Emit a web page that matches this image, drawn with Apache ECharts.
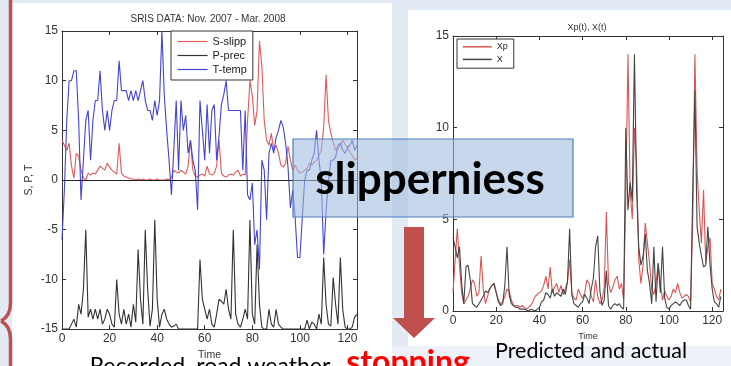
<!DOCTYPE html>
<html><head><meta charset="utf-8">
<script src="https://cdn.jsdelivr.net/npm/echarts@6/dist/echarts.min.js"></script>
<style>html,body{margin:0;padding:0;background:#e4eaf4;overflow:hidden}#c{width:731px;height:366px}</style>
</head><body><div id="c"></div>
<script>
// ---------- data ----------
const leftTitle = 'SRIS DATA: Nov. 2007 - Mar. 2008';
const rightTitle = 'Xp(t), X(t)';
const leftSeriesNames = ['S-slipp', 'P-prec', 'T-temp'];
const rightSeriesNames = ['Xp', 'X'];
const leftXRange = [0, 124, 20];   // min, max, tick step
const leftYRange = [-15, 15, 5];
const rightXRange = [0, 125, 20];
const rightYRange = [0, 15, 5];

const sSlipp = [4,3.5,3,3.7,1.4,0.2,2.7,2.4,1,0.2,
 0,0.7,0.5,0.7,0.6,1,1.4,1.2,1,1.7,
 1.3,1,0.8,0.6,3.7,0.7,0.4,0.3,0.2,0.1,
 0.1,0,0.1,0,0.1,0,0,0.1,0,0,
 0.1,0,0,0,0.1,0,0.3,1,0.8,0.7,
 1,0.8,0.6,1.4,4,1,0.4,0.3,0.5,0.6,
 0.4,1.4,0.6,0.5,0.7,1.4,4,0.7,0.4,0.3,
 0.5,0.6,0.5,0.8,1,0.4,0.6,0.5,6,10,
 8.5,5.5,7,14,11.5,6,4,3.5,4.7,3,
 3.5,2.7,1.5,1.3,1.7,3.4,2,1,1.5,1,
 0.7,0.8,1,1.2,1.7,1.5,1.8,2,2.5,3,
 5.3,10.6,6,4.7,3.8,3,3.2,3.5,4,3.6,
 3.3,2.8,2.5,2,2.2];
const pPrec = [-15,-15,-15,-15,-14.5,-14,-14.8,-12.5,-13.5,-11,
 -5,-13.8,-13,-14,-13,-14,-13,-14.5,-14,-13,
 -13.5,-14.5,-14.8,-10,-13.5,-14.5,-13,-14.5,-13.5,-14.8,
 -12.5,-14.3,-7,-12,-14.5,-5,-11,-14.7,-13,-4,
 -12,-14.8,-13.5,-13,-14,-14.5,-14.8,-14.7,-14.5,-15,
 -15,-15,-15,-15,-15,-15,-15,-15,-8,-12,
 -13,-14,-13,-14.5,-14.8,-13.5,-12,-12.2,-12.5,-11,
 -13,-14,-5,-13.5,-14.5,-14.8,-14,-13,-14,-4,
 -13.5,-14.5,-6.5,-12.5,-14.8,-15,-15,-13,-14.5,-14.8,
 -13,-14.5,-14.8,-15,-15,-15,-15,-15,-15,-15,
 -15,-15,-15,-14.1,-15,-14.3,-14.5,-15,-13.5,-14.5,
 -7.8,-12.5,-14.5,-14.7,-9.8,-12.5,-14.5,-7.8,-13,-14.8,
 -15,-15,-14.8,-13.8,-13.5];
const tTemp = [-6,-1,6,10,10,11,11,6,-2,2,
 6,7,2,6,8,8,11,7,5,7,
 5,7,8,8,12,9,9,9,8,9,
 8,9,8,9,10,8,7,7,6,8,
 6.5,8,15,8.5,5,2,-1.5,3,8,1,
 8,5,6.5,2.7,4,2,1,-3,8,5,
 2,7.6,2.7,7,7.6,2,4.4,7.6,8.6,10,
 7,7,7,7,7,7,1,7,-1.5,-2,
 -0.3,-6.5,-5,-9,2,1,-4,2.7,3.7,2.7,
 4.3,5,6,5.3,3.7,1.3,-2.8,-1,-3.8,-7.8,
 -7.8,-3.8,0,1,1,2,2.7,5,2,0,
 -7.5,-3.2,0,2,2,2.3,3.5,3.7,3,2.7,
 3.3,3.5,4,3,3.5];
const xp = [1,2.8,4.5,2.5,1,0.4,0.6,0.8,1.2,1.7,
 1.5,0.8,1,3,1.2,0.4,0.8,1.2,1.4,1.5,
 1,0.6,0.4,0.5,0.8,1.2,1.1,0.6,0.3,0.3,
 0.3,0.2,0.3,0.2,0.1,0.2,0.3,0.5,0.8,0.9,
 1,1.1,1.4,1.9,1.2,2.4,1,1.3,1.5,1,
 1.4,0.9,1.2,1.6,2.8,1,0.7,0.6,1.2,0.9,
 0.7,1,1.7,1.5,0.8,0.5,1.7,0.8,0.4,0.6,
 1.3,5.4,1.5,1,1.3,1.7,1.9,1.2,1.5,0.6,
 6.2,14,6.6,5,10,8,2.8,1.5,2.5,4.8,
 3.7,2.6,1.2,0.9,1.5,2.6,1.5,0.6,1.1,0.8,
 0.6,0.8,1.2,1,1.5,1,0.7,0.8,0.9,0.8,
 0.5,5,14,7.7,5.5,3.7,6.6,2.6,3.5,4,
 1.5,1.2,0.8,0.6,1.2];
const xActual = [4,3.5,2.9,3.5,1.5,0.4,2.4,2.5,1.7,0.4,
 0.3,0.2,0.4,0.6,0.8,1.1,1,1.2,1.4,1.5,
 1,0.5,0.3,0.4,1.4,3.5,0.9,0.4,0.3,0.2,
 0.2,0.1,0.1,0.1,0.05,0,0.1,0.05,0,0.1,
 0.2,0.5,0.6,1,0.9,0.7,1.2,0.8,1,0.9,
 0.8,1.2,0.9,1.6,4.5,0.9,0.4,0.3,0.2,0.4,
 0.5,0.9,0.7,0.4,1.2,1.8,3.5,4.1,1.1,0.3,
 0.6,2.2,0.3,0.1,0.3,0.4,0.3,0.4,0.2,0.1,
 10,5.5,7,6,14,6.6,3.5,2.5,3,4.2,
 2.2,1.5,0.4,3.5,0.5,2.6,1,3.5,0.7,0.2,
 0.1,0.3,0.4,0.5,0.4,0.3,0.5,0.6,0.6,0.3,
 0.1,6.6,12,4.6,3.7,3,2.4,2.5,4.6,2.5,
 1.2,0.5,0.4,0.2,0.8];
const boxText = 'slipperniess';
const arrowText = 'stopping';
const leftCaption = 'Recorded, road weather';
const rightCaption = 'Predicted and actual';

// ---------- chart ----------
const FM = "'Liberation Sans', Arial, sans-serif";
const FS = "Lato, 'Open Sans', sans-serif";
const pairs = arr => arr.map((v, i) => [i, v]);
const AX = '#333';

function mkAxis(grid, r, pos, labels, extra) {
  return Object.assign({
    gridIndex: grid, type: 'value', min: r[0], max: r[1], interval: r[2], position: pos,
    axisLine: { show: true, onZero: false, lineStyle: { color: AX, width: 1 } },
    axisTick: { show: true, inside: true, length: 4, lineStyle: { color: AX } },
    axisLabel: { show: labels, color: '#333', fontFamily: FM, margin: 4, showMaxLabel: (pos === 'left' || pos === 'right') },
    splitLine: { show: false }
  }, extra || {});
}
const nameStyle = (fs) => ({ fontSize: fs, color: '#333', fontFamily: FM });
const BR = '#c0504d';

const chart = echarts.init(document.getElementById('c'), null, { renderer: 'canvas' });
const option = {
  animation: false,
  grid: [
    { left: 62, top: 31, width: 295, height: 301, containLabel: false },
    { left: 453, top: 36, width: 270, height: 275, containLabel: false }
  ],
  xAxis: [
    mkAxis(0, leftXRange, 'bottom', true, { name: 'Time', nameLocation: 'middle', nameGap: 17, nameTextStyle: nameStyle(10.5) }),
    mkAxis(0, leftXRange, 'top', false),
    mkAxis(1, rightXRange, 'bottom', true, { name: 'Time', nameLocation: 'middle', nameGap: 16, nameTextStyle: nameStyle(9) }),
    mkAxis(1, rightXRange, 'top', false)
  ],
  yAxis: [
    mkAxis(0, leftYRange, 'left', true, { name: 'S, P, T', nameLocation: 'middle', nameGap: 27, nameTextStyle: nameStyle(10.5) }),
    mkAxis(0, leftYRange, 'right', false),
    mkAxis(1, rightYRange, 'left', true, { name: 'X', nameLocation: 'middle', nameGap: 18, nameTextStyle: nameStyle(9) }),
    mkAxis(1, rightYRange, 'right', false)
  ],
  legend: [
    { data: leftSeriesNames, orient: 'vertical', left: 171, top: 31, padding: [5, 6, 5, 6], itemGap: 3,
      itemWidth: 30, itemHeight: 12, backgroundColor: '#fff', borderColor: '#333', borderWidth: 1,
      itemStyle: { opacity: 0 }, lineStyle: { width: 1.2 },
      selectedMode: false, textStyle: { fontSize: 11, color: '#222', fontFamily: FM } },
    { data: rightSeriesNames, orient: 'vertical', left: 457, top: 39, padding: [3, 6, 4, 5], itemGap: 3,
      itemWidth: 29, itemHeight: 12, backgroundColor: '#fff', borderColor: '#333', borderWidth: 1,
      itemStyle: { opacity: 0 }, lineStyle: { width: 1.5 },
      selectedMode: false, textStyle: { fontSize: 9, color: '#222', fontFamily: FM } }
  ],
  series: [
    { name: leftSeriesNames[0], type: 'line', xAxisIndex: 0, yAxisIndex: 0, data: pairs(sSlipp), symbol: 'none',
      lineStyle: { color: '#e05a5a', width: 1.1 }, itemStyle: { color: '#e05a5a' },
      markLine: { silent: true, symbol: 'none', label: { show: false }, lineStyle: { color: '#222', width: 1, type: 'solid' }, data: [{ yAxis: 0 }] } },
    { name: leftSeriesNames[1], type: 'line', xAxisIndex: 0, yAxisIndex: 0, data: pairs(pPrec), symbol: 'none',
      lineStyle: { color: '#333', width: 1.1 }, itemStyle: { color: '#333' } },
    { name: leftSeriesNames[2], type: 'line', xAxisIndex: 0, yAxisIndex: 0, data: pairs(tTemp), symbol: 'none',
      lineStyle: { color: '#4444d2', width: 1.1 }, itemStyle: { color: '#4444d2' } },
    { name: rightSeriesNames[0], type: 'line', xAxisIndex: 2, yAxisIndex: 2, data: pairs(xp), symbol: 'none',
      lineStyle: { color: '#d85555', width: 1.1 }, itemStyle: { color: '#d85555' } },
    { name: rightSeriesNames[1], type: 'line', xAxisIndex: 2, yAxisIndex: 2, data: pairs(xActual), symbol: 'none',
      lineStyle: { color: '#444', width: 1.1 }, itemStyle: { color: '#444' } }
  ],
  graphic: { elements: [
    { type: 'rect', z: -100, silent: true, shape: { x: 0, y: 0, width: 731, height: 366 }, style: { fill: '#e4eaf4' } },
    { type: 'rect', z: -99, silent: true, shape: { x: 392, y: 346, width: 339, height: 20 }, style: { fill: '#eef1f8' } },
    { type: 'rect', z: -98, silent: true, shape: { x: 12, y: 3, width: 380, height: 363 }, style: { fill: '#ffffff' } },
    { type: 'rect', z: -98, silent: true, shape: { x: 408, y: 10, width: 323, height: 336 }, style: { fill: '#ffffff' } },
    { type: 'line', z: 50, silent: true, shape: { x1: 10.5, y1: 0, x2: 10.5, y2: 303 }, style: { stroke: BR, lineWidth: 3.5 } },
    { type: 'bezierCurve', z: 50, silent: true, shape: { x1: 10.5, y1: 303, x2: 1, y2: 321, cpx1: 10.5, cpy1: 316 }, style: { fill: null, stroke: BR, lineWidth: 3.5 } },
    { type: 'bezierCurve', z: 50, silent: true, shape: { x1: 1, y1: 321, x2: 10.5, y2: 339, cpx1: 10.5, cpy1: 326 }, style: { fill: null, stroke: BR, lineWidth: 3.5 } },
    { type: 'line', z: 50, silent: true, shape: { x1: 10.5, y1: 339, x2: 10.5, y2: 366 }, style: { stroke: BR, lineWidth: 3.5 } },
    { type: 'text', z: 50, silent: true, style: { text: leftTitle, x: 208, y: 19, align: 'center', verticalAlign: 'middle', fontSize: 10, fontFamily: FM, fill: '#333' } },
    { type: 'text', z: 50, silent: true, style: { text: rightTitle, x: 587, y: 27.5, align: 'center', verticalAlign: 'middle', fontSize: 9, fontFamily: FM, fill: '#333' } },
    { type: 'rect', z: 100, silent: true, shape: { x: 293, y: 139, width: 280, height: 78 },
      style: { fill: 'rgba(160,188,222,0.58)', stroke: '#4a7ebb', lineWidth: 1.2 } },
    { type: 'text', z: 101, silent: true, style: { text: boxText, x: 430, y: 179.5, align: 'center', verticalAlign: 'middle', fontSize: 44, fontWeight: 'bold', fontFamily: FS, fill: '#000' } },
    { type: 'polygon', z: 100, silent: true, shape: { points: [[404,227],[424,227],[424,318],[435,318],[414,338],[393,318],[404,318]] },
      style: { fill: BR } },
    { type: 'text', z: 101, silent: true, style: { text: arrowText, x: 408, y: 362.5, align: 'center', verticalAlign: 'middle', fontSize: 32, fontWeight: 'bold', fontFamily: FS, fill: '#ff0000' } },
    { type: 'text', z: 101, silent: true, style: { text: leftCaption, x: 210, y: 367, align: 'center', verticalAlign: 'middle', fontSize: 23, fontFamily: FS, fill: '#000' } },
    { type: 'text', z: 101, silent: true, style: { text: rightCaption, x: 591, y: 351, align: 'center', verticalAlign: 'middle', fontSize: 21.5, fontFamily: FS, fill: '#000' } }
  ] }
};
chart.setOption(option);
</script>
</body></html>
